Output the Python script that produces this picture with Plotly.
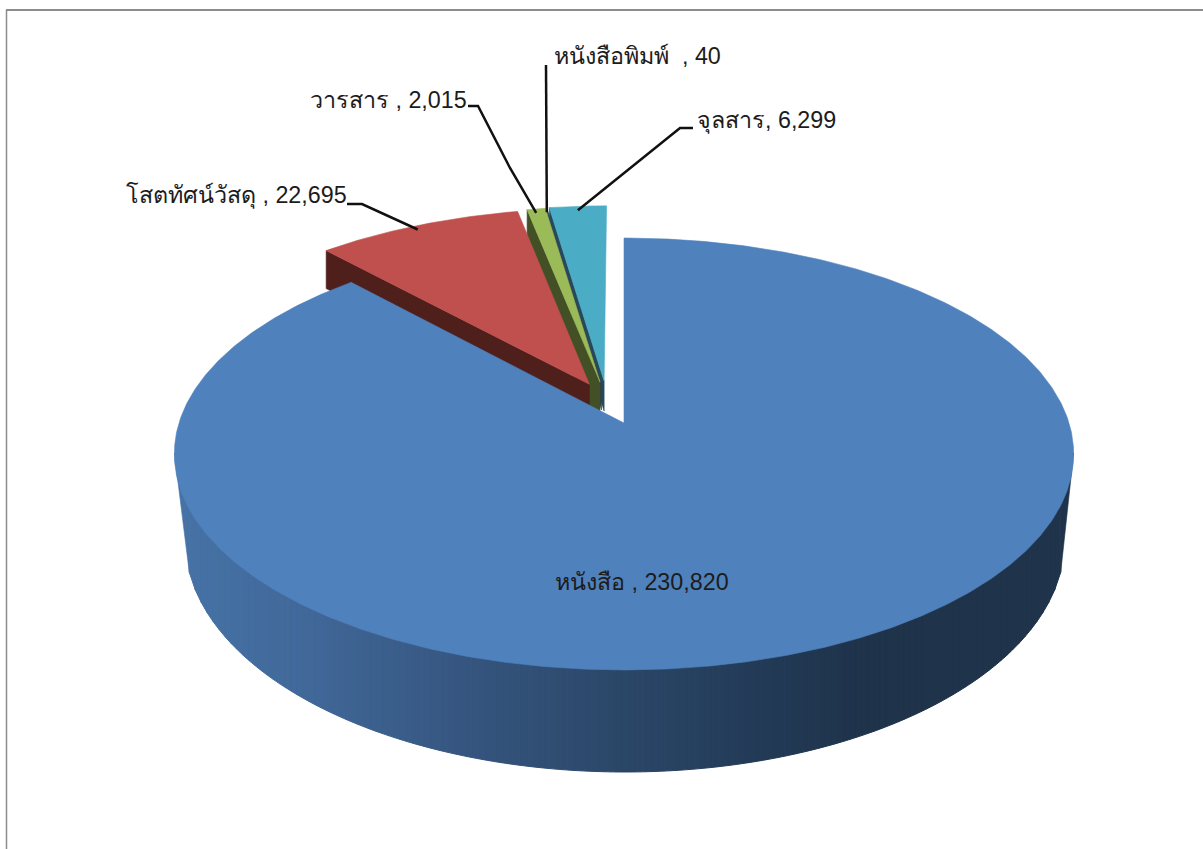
import numpy as np
import plotly.graph_objects as go

# ---- data ----
categories = ["หนังสือ", "โสตทัศน์วัสดุ", "วารสาร", "หนังสือพิมพ์", "จุลสาร"]
values = [230820, 22695, 2015, 40, 6299]
separators = [" , ", " , ", " , ", "  , ", ", "]

# ---- style ----
top_colors = ["#4F81BD", "#C0504D", "#9BBB59", "#2E4A5E", "#4BACC6"]
side_colors = [None, "#4F1F1C", "#434F24", "#2A4254", "#26495C"]
side_depth = [0, 38, 55, 28, 30]
explode_u = [0.0, -0.080, -0.0555, -0.052, -0.046]
explode_v = [0.0, 0.188, 0.1994, 0.2, 0.204]
gradient_x = [185, 300, 460, 620, 750, 860, 1100]
gradient_rgb = [(70, 114, 165), (65, 105, 154), (54, 86, 128), (43, 71, 104),
                (35, 59, 88), (31, 51, 75), (31, 51, 75)]
text_color = "#1c1c1c"
frame_color = "#8c8c8c"

# ---- projection of the tilted pie plane to the plot axes ----
CX, CY, R, Q, K = 624.0, 423.0, 445.0, 211.5, 0.1435
LOW_CX, LOW_CY, LOW_RX, LOW_RY = 625.0, 540.0, 440.0, 232.0
WALL_TOP = 455.0  # hidden below the top face of the large slice


def project(u, v):
    w = 1 + K * v
    return CX + R * u / w, CY - Q * v / w


def rim(i, deg):
    t = np.radians(deg)
    return project(np.sin(t) + explode_u[i], np.cos(t) + explode_v[i])


def wall_shade(x):
    rgb = [np.interp(x, gradient_x, [c[k] for c in gradient_rgb]) for k in range(3)]
    return "rgb({:.0f},{:.0f},{:.0f})".format(*rgb)


def wall_lower(x):
    ratio = np.clip((x - LOW_CX) / LOW_RX, -1, 1)
    return LOW_CY + LOW_RY * np.sqrt(1 - ratio ** 2)


total = sum(values)
edges = np.concatenate([[0.0], np.cumsum(values) / total * 360.0])

fig = go.Figure()


def poly(xs, ys, color, width=0.6):
    fig.add_trace(go.Scatter(
        x=list(xs), y=list(ys), mode="lines", fill="toself", fillcolor=color,
        line=dict(color=color, width=width), hoverinfo="skip", showlegend=False))


def slice_top(i):
    a = np.linspace(edges[i], edges[i + 1], max(3, int(edges[i + 1] - edges[i]) * 2))
    ax, ay = project(explode_u[i], explode_v[i])
    rx, ry = rim(i, a)
    poly(np.r_[ax, rx, ax], np.r_[ay, ry, ay], top_colors[i])


def slice_side(i):
    ax, ay = project(explode_u[i], explode_v[i])
    rx, ry = rim(i, edges[i])
    d = side_depth[i]
    poly([ax, rx, rx, ax, ax], [ay, ry, ry + d, ay + d, ay], side_colors[i])


# small slices, back to front
for i in [4, 3, 2, 1]:
    slice_side(i)
    slice_top(i)

# outer wall of the large slice, shaded in vertical columns along x
low_theta = np.radians(98)
left_x, right_x = LOW_CX - LOW_RX * np.sin(low_theta), LOW_CX + LOW_RX * np.sin(low_theta)
lx_top, ly_top = project(np.sin(np.radians(262)), np.cos(np.radians(262)))
rx_top, ry_top = project(np.sin(np.radians(98)), np.cos(np.radians(98)))
poly([lx_top, left_x, left_x, lx_top], [ly_top, wall_lower(left_x), ly_top, ly_top], wall_shade(left_x))
poly([rx_top, right_x, right_x, rx_top], [ry_top, wall_lower(right_x), ry_top, ry_top], wall_shade(right_x))

columns = np.linspace(left_x, right_x, 146)
for x0, x1 in zip(columns[:-1], columns[1:]):
    poly([x0, x1, x1, x0, x0],
         [WALL_TOP, WALL_TOP, wall_lower(x1), wall_lower(x0), WALL_TOP],
         wall_shade((x0 + x1) / 2), width=1)

slice_top(0)

# leader lines: from label elbow to the middle of each slice's rim
leader_elbows = {
    1: ([347, 362], [204, 204]),
    2: ([468, 478, 510], [106, 106, 168]),
    3: ([546], [65]),
    4: ([693, 680], [128, 128]),
}
for i, (lx, ly) in leader_elbows.items():
    ex, ey = rim(i, (edges[i] + edges[i + 1]) / 2)
    fig.add_trace(go.Scatter(x=lx + [float(ex)], y=ly + [float(ey) + 4], mode="lines",
                             line=dict(color="#111111", width=2.5),
                             hoverinfo="skip", showlegend=False))

# labels
label_x = [642, 236, 388, 637, 766]
label_y = [582, 195, 100, 56, 120]
annotations = [
    dict(x=x, y=y, xref="x", yref="y", showarrow=False,
         text=f"{c}{s}{v:,}", xanchor="center", yanchor="middle",
         font=dict(family="Liberation Sans, Noto Sans, sans-serif", size=23.3, color=text_color))
    for x, y, c, s, v in zip(label_x, label_y, categories, separators, values)
]

fig.update_layout(
    width=1203, height=849, autosize=False,
    margin=dict(l=0, r=0, t=0, b=0),
    paper_bgcolor="white", plot_bgcolor="white",
    xaxis=dict(range=[0, 1203], visible=False, fixedrange=True),
    yaxis=dict(range=[849, 0], visible=False, fixedrange=True),
    annotations=annotations,
    shapes=[
        dict(type="line", xref="x", yref="y", x0=6, x1=1203, y0=10, y1=10,
             line=dict(color=frame_color, width=2)),
        dict(type="line", xref="x", yref="y", x0=6.5, x1=6.5, y0=10, y1=849,
             line=dict(color=frame_color, width=1.5)),
    ],
)

fig.write_html("out.html", config=dict(displayModeBar=False),
               post_script="document.body.style.margin='0';document.body.style.overflow='hidden';")
